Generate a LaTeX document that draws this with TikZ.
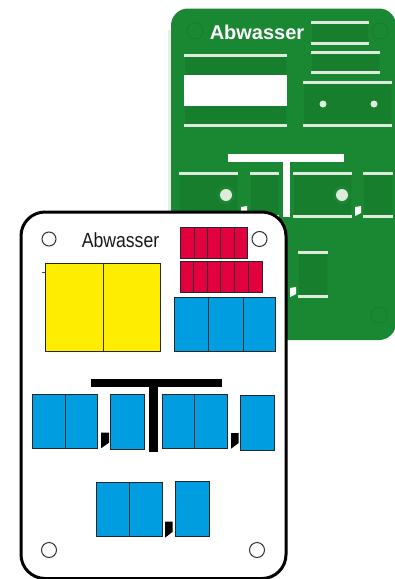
\documentclass[tikz,border=0pt]{standalone}
\usepackage{fontspec}
\setmainfont{Liberation Sans}
\definecolor{plate}{HTML}{1A8733}
\definecolor{platedark}{HTML}{167E2D}
\definecolor{slot}{HTML}{DDEBDC}
\definecolor{blue1}{HTML}{009EE0}
\definecolor{yell}{HTML}{FFED00}
\definecolor{crim}{HTML}{E2003F}
\tikzset{
  strip/.style={fill=slot,draw=none},
  inner/.style={fill=platedark,draw=none,rounded corners=2pt},
  cell/.style={draw=black!85,line width=1pt},
  bluecell/.style={cell,fill=blue1},
  yellcell/.style={cell,fill=yell},
  crimcell/.style={cell,fill=crim},
  divider/.style={draw=black!80,line width=1pt},
  hole/.style={fill=slot,draw=none},
  fainthole/.style={draw=platedark,line width=1pt},
  mounthole/.style={draw=black!80,fill=white,line width=1pt},
  solidblack/.style={fill=black,draw=none},
}
% window: x0,x1,top strip y,bottom strip y
\newcommand{\slotbox}[4]{%
  \fill[inner] (#1+1,#3) rectangle (#2-1,#4);
  \fill[strip] (#1,#3-1.5) rectangle (#2,#3+1.5);
  \fill[strip] (#1,#4-1.5) rectangle (#2,#4+1.5);
}
\begin{document}
\begin{tikzpicture}[x=1pt,y=-1pt]
\useasboundingbox (0,0) rectangle (395,579);
\fill[white] (0,0) rectangle (395,579);
% green plate
\fill[black!8] (168,30) rectangle (171,240);
\fill[plate,rounded corners=17pt] (171,8.5) rectangle (396,340);
\slotbox{311}{369}{22}{43}
\slotbox{311}{380}{52}{72}
\slotbox{184}{287}{55}{125}
\slotbox{303}{392}{82}{125}
\fill[white] (184,75) rectangle (287,106);
\fill[hole] (323,104) circle (3.5);
\fill[hole] (374,104) circle (3.5);
\fill[white] (228,154) rectangle (344,162);
\fill[white] (283,162) rectangle (290,217);
\slotbox{179}{238}{173}{216}
\slotbox{250}{279}{173}{216}
\slotbox{293}{352}{173}{216}
\slotbox{363}{393}{173}{216}
\slotbox{298}{328}{252}{296}
\draw[plate,line width=3pt] (226,195) circle (7.5);
\draw[plate,line width=3pt] (342,195) circle (7.5);
\fill[hole] (226,195) circle (6);
\fill[hole] (342,195) circle (6);
\fill[white] (355,207) -- (361,206) -- (361,213) -- (355,216) -- cycle;
\fill[white] (241,207) -- (247,206) -- (247,213) -- (241,216) -- cycle;
\fill[white] (290,288) -- (296,287) -- (296,294) -- (290,297) -- cycle;
\draw[fainthole] (195,31) circle (8);
\draw[fainthole] (380,31) circle (8);
\draw[fainthole] (379,315) circle (8);
\node[text=white,font=\bfseries\fontsize{20}{20}\selectfont,inner sep=0pt] (greentitle) at (257,32) {Abwasser};
% white card
\draw[black,fill=white,line width=3pt,rounded corners=24pt] (21,212) rectangle (286,578.5);
\node[text=black!90,font=\fontsize{20.5}{20}\selectfont,inner sep=0pt,xscale=0.86] (cardtitle) at (120.5,240) {Abwasser};
\draw[mounthole] (49,239) circle (7);
\draw[mounthole] (259.5,239) circle (7.5);
\draw[mounthole] (49,550) circle (7.5);
\draw[mounthole] (257,550) circle (7.5);
% yellow
\draw[black!70,line width=0.5pt] (42,272) -- (45,272);
\draw[yellcell] (45,263) rectangle (160,351);
\draw[divider] (103,263) -- (103,351);
% crimson
\draw[crimcell] (180,227) rectangle (247,258);
\foreach \x in {194,207,220.7,234} \draw[divider] (\x,227) -- (\x,258);
\draw[crimcell] (180,261) rectangle (262,292);
\foreach \x in {193.5,207,220.7,234,248} \draw[divider] (\x,261) -- (\x,292);
% blue top
\draw[bluecell] (174,297) rectangle (275,351);
\foreach \x in {208,243} \draw[divider] (\x,297) -- (\x,351);
% T
\fill[solidblack] (90.7,379) rectangle (221.7,387);
\fill[solidblack] (148.7,387) rectangle (157.7,451.7);
% blue row
\draw[bluecell] (32.3,394.3) rectangle (97.3,448.3);
\draw[divider] (65,394.3) -- (65,448.3);
\draw[bluecell] (110.3,394.7) rectangle (144.7,449.7);
\draw[bluecell] (162,394.7) rectangle (227,448.7);
\draw[divider] (194.3,394.7) -- (194.3,448.7);
\draw[bluecell] (240.7,395.3) rectangle (274.7,450.7);
\draw[bluecell] (96.7,482) rectangle (162,536.3);
\draw[divider] (129.3,482) -- (129.3,536.3);
\draw[bluecell] (175,481.7) rectangle (209,536.7);
% marks
\fill[solidblack] (101,432.7) -- (109,432.7) -- (109,442.7) -- (101,448.3) -- cycle;
\fill[solidblack] (231,433) -- (238.7,433) -- (238.7,443) -- (231,448.7) -- cycle;
\fill[solidblack] (165,521.7) -- (172.7,521.7) -- (172.7,531.7) -- (165,537.7) -- cycle;
\end{tikzpicture}
\end{document}
